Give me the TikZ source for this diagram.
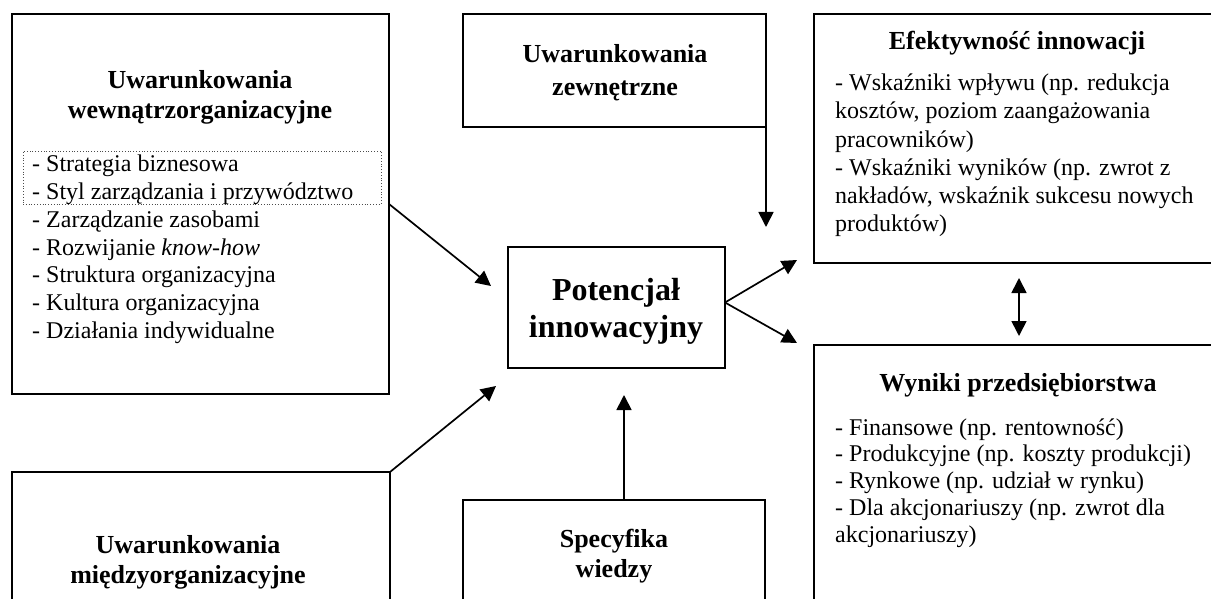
\documentclass[tikz,border=0pt]{standalone}
\usepackage{fontspec}
\setmainfont{Liberation Serif}
\usetikzlibrary{arrows.meta,calc}
\newcommand{\linesL}[1]{\begin{tabular}[t]{@{}l@{}}#1\end{tabular}}
\newcommand{\linesC}[1]{\begin{tabular}[t]{@{}c@{}}#1\end{tabular}}
\begin{document}
\begin{tikzpicture}[x=1pt,y=-1pt,
  box/.style={draw, line width=1.9pt, inner sep=0pt, outer sep=0pt, anchor=north west},
  dotbox/.style={draw=black!70, dotted, line width=0.8pt, inner sep=0pt, outer sep=0pt, anchor=north west},
  conn/.style={line width=1.7pt, -{Triangle[length=15pt,width=15pt]}},
  both/.style={line width=1.7pt, {Triangle[length=15pt,width=15pt]}-{Triangle[length=15pt,width=15pt]}},
  title/.style={font=\fontsize{26}{30}\selectfont\bfseries, inner sep=0pt, anchor=base},
  big/.style={font=\fontsize{32}{37}\selectfont\bfseries, inner sep=0pt, anchor=base},
  body/.style={font=\fontsize{24}{27.7}\selectfont, inner sep=0pt, anchor=base west},
]
\useasboundingbox (0,0) rectangle (1211,599);
\clip (0,0) rectangle (1211,599);

% boxes
\node[box, minimum width=377pt, minimum height=380pt] (wew) at (12,14) {};
\node[box, minimum width=303pt, minimum height=113pt] (zew) at (463,14) {};
\node[box, minimum width=420pt, minimum height=249pt] (efe) at (814,14) {};
\node[box, minimum width=217pt, minimum height=121pt] (pot) at (508,247) {};
\node[box, minimum width=420pt, minimum height=300pt] (wyn) at (814,345) {};
\node[box, minimum width=378pt, minimum height=200pt] (mie) at (12,472) {};
\node[box, minimum width=302pt, minimum height=150pt] (spe) at (463,500) {};
\node[dotbox, minimum width=358pt, minimum height=53pt] (dots) at (23,151) {};

% texts
\node[title] (wewT) at (200,89) {\fontsize{26}{29.5}\selectfont\linesC{Uwarunkowania\\wewnątrzorganizacyjne}};
\node[body] (wewL) at (32,172) {\linesL{- Strategia biznesowa\\- Styl zarządzania i przywództwo\\- Zarządzanie zasobami\\- Rozwijanie \textit{know-how}\\- Struktura organizacyjna\\- Kultura organizacyjna\\- Działania indywidualne}};
\node[title] (zewT) at (615,63) {\fontsize{26}{33}\selectfont\linesC{Uwarunkowania\\zewnętrzne}};
\node[big] (potT) at (616,300) {\linesC{Potencjał\\innowacyjny}};
\node[title] (efeT) at (1017,50) {Efektywność innowacji};
\node[body] (efeL) at (835,90.7) {\fontsize{24}{28.2}\selectfont\linesL{- Wskaźniki wpływu (np. redukcja\\kosztów, poziom zaangażowania\\pracowników)\\- Wskaźniki wyników (np. zwrot z\\nakładów, wskaźnik sukcesu nowych\\produktów)}};
\node[title] (wynT) at (1018,391) {Wyniki przedsiębiorstwa};
\node[body] (wynL) at (835,435) {\fontsize{24}{26.8}\selectfont\linesL{- Finansowe (np. rentowność)\\- Produkcyjne (np. koszty produkcji)\\- Rynkowe (np. udział w rynku)\\- Dla akcjonariuszy (np. zwrot dla\\akcjonariuszy)}};
\node[title] (mieT) at (188,553) {\linesC{Uwarunkowania\\międzyorganizacyjne}};
\node[title] (speT) at (614,547) {\linesC{Specyfika\\wiedzy}};

% arrow end points
\coordinate (t1) at (491,286);
\coordinate (t2) at (766,227);
\coordinate (t3) at (797,260);
\coordinate (t4) at (797,343);
\coordinate (t5) at (496,386);
\coordinate (t6) at (624,395);
\coordinate (d1) at (1019,278);
\coordinate (d2) at (1019,336);

% connectors
\draw[conn] (wew.east |- dots.south) -- (t1);
\draw[conn] (zew.south east) -- (t2);
\draw[conn] ([yshift=5pt]pot.east) -- (t3);
\draw[conn] ([yshift=5pt]pot.east) -- (t4);
\draw[conn] (mie.north east) -- (t5);
\draw[conn] (spe.north -| t6) -- (t6);
\draw[both] (d1) -- (d2);
\end{tikzpicture}
\end{document}
